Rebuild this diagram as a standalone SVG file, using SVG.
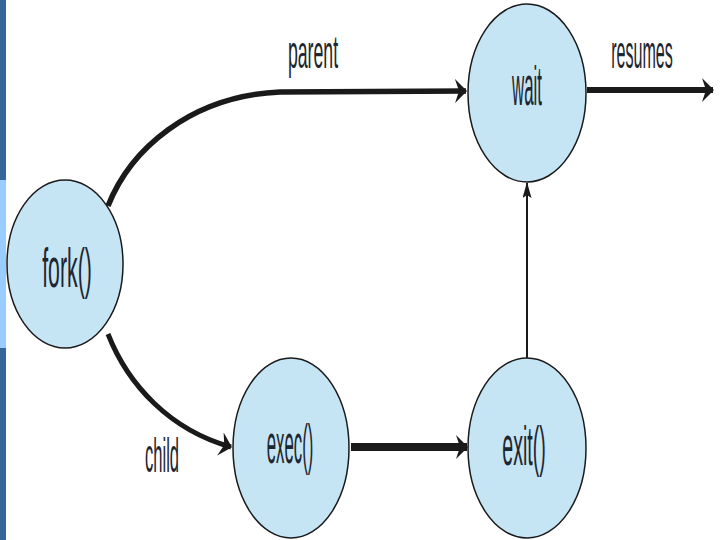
<svg xmlns="http://www.w3.org/2000/svg" width="720" height="540" viewBox="0 0 720 540">
<style>
.node{fill:#c5e5f5;stroke:#1a1a1a;stroke-width:1.5}
.lbl{font-family:"Liberation Sans",Arial,sans-serif;fill:#1e2630;text-anchor:middle}
.nl{font-size:56px}
.el{font-size:46px}
.edge{fill:none;stroke:#1a1a1a}
</style>
<defs>
<marker id="ah" viewBox="0 0 12 24" refX="11" refY="12" markerWidth="12" markerHeight="24" markerUnits="userSpaceOnUse" orient="auto">
<path d="M0,0 L12,12 L0,24 L4,12 Z" fill="#1a1a1a"/>
</marker>
<marker id="ahs" viewBox="0 0 16 9" refX="15" refY="4.5" markerWidth="16" markerHeight="9" markerUnits="userSpaceOnUse" orient="auto">
<path d="M0,0 L16,4.5 L0,9 L3,4.5 Z" fill="#1a1a1a"/>
</marker>
</defs>
<rect width="720" height="540" fill="#ffffff"/>
<rect x="0" y="0" width="6" height="540" fill="#336699"/>
<rect x="0" y="180" width="6" height="168" fill="#99ccff"/>
<g id="connectors">
<path class="edge" stroke-width="5.5" d="M108,206 C130,150 190,96 280,92 L466,91" marker-end="url(#ah)"/>
<path class="edge" stroke-width="5" d="M108,334 C128,385 170,430 231,447" marker-end="url(#ah)"/>
<path class="edge" stroke-width="8" d="M351,447 L467,447" marker-end="url(#ah)"/>
<path class="edge" stroke-width="6" d="M587,90 L713,90" marker-end="url(#ah)"/>
<path class="edge" stroke-width="2" d="M527,358 L527,183" marker-end="url(#ahs)"/>
<text class="lbl el" transform="translate(313,68) scale(0.385,1)">parent</text>
<text class="lbl el" transform="translate(642,68) scale(0.35,1)">resumes</text>
<text class="lbl el" transform="translate(162,472) scale(0.36,1.04)">child</text>
</g>
<g id="fork">
<ellipse class="node" cx="65" cy="264" rx="58" ry="84"/>
<text class="lbl nl" transform="translate(67,287) scale(0.38,1)">fork()</text>
</g>
<g id="wait">
<ellipse class="node" cx="527" cy="93" rx="59" ry="89"/>
<text class="lbl nl" transform="translate(527,105) scale(0.30,1)">wait</text>
</g>
<g id="exec">
<ellipse class="node" cx="291" cy="448" rx="58" ry="90"/>
<text class="lbl nl" transform="translate(290,463) scale(0.30,1)">exec()</text>
</g>
<g id="exit">
<ellipse class="node" cx="527" cy="448" rx="59" ry="90"/>
<text class="lbl nl" transform="translate(524,465) scale(0.35,1)">exit()</text>
</g>
</svg>
